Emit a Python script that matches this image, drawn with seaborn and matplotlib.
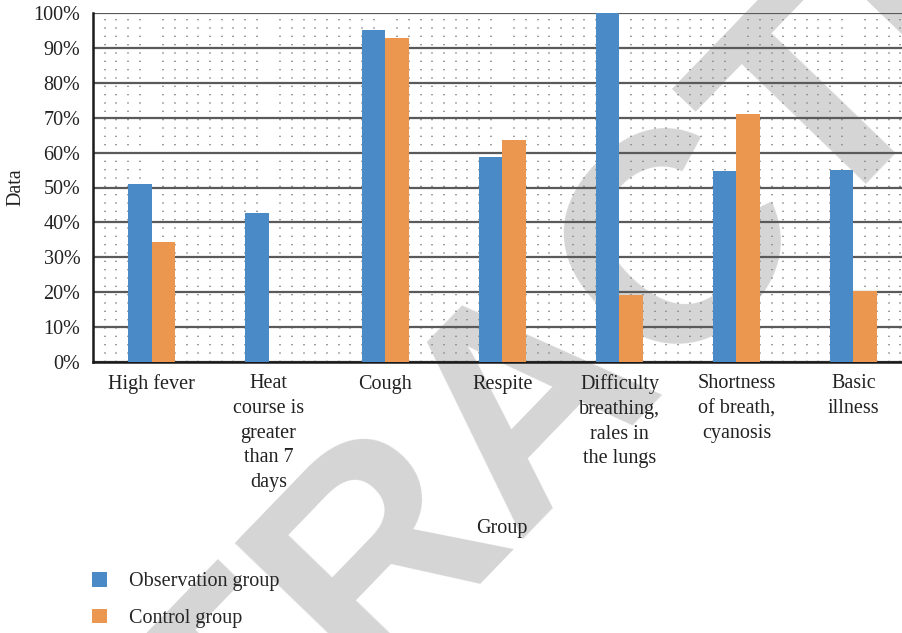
import matplotlib
matplotlib.use("Agg")
import matplotlib.pyplot as plt
from matplotlib.ticker import MultipleLocator, PercentFormatter
import seaborn as sns
import pandas as pd

categories = [
    "High fever",
    "Heat\ncourse is\ngreater\nthan 7\ndays",
    "Cough",
    "Respite",
    "Difficulty\nbreathing,\nrales in\nthe lungs",
    "Shortness\nof breath,\ncyanosis",
    "Basic\nillness",
]
observation = [51.0, 42.7, 95.1, 58.7, 100.0, 54.7, 55.0]
control = [34.4, 0.0, 92.8, 63.6, 19.2, 71.1, 20.3]
groups = ["Observation group", "Control group"]

df = pd.DataFrame({
    "Group": categories * 2,
    "Data": observation + control,
    "Series": [groups[0]] * len(categories) + [groups[1]] * len(categories),
})

sns.set_theme(style="white")
plt.rcParams["font.family"] = ["Liberation Serif", "DejaVu Serif"]

fig = plt.figure(figsize=(9.02, 6.33), dpi=100)
ax = fig.add_axes([93 / 902, 1 - 362 / 633, 819 / 902, 349 / 633])
ax.set_facecolor("none")

# faint watermark behind everything
fig.text(0.59, 0.37, "RETRACTED", rotation=46, rotation_mode="anchor",
         ha="center", va="center", fontsize=215, fontweight="bold",
         family="Liberation Sans", color="#d5d5d5", zorder=-5)

sns.barplot(data=df, x="Group", y="Data", hue="Series", hue_order=groups,
            palette=["#4a8bc7", "#eb974f"], width=0.41, gap=0,
            saturation=1, linewidth=0, ax=ax, legend=True, zorder=3)

ax.set_ylim(0, 100)
ax.set_xlim(-0.5, 6.5)
ax.yaxis.set_major_locator(MultipleLocator(10))
ax.yaxis.set_major_formatter(PercentFormatter(decimals=0))
ax.xaxis.set_minor_locator(MultipleLocator(0.1))
ax.grid(axis="y", which="major", color="#5a5a5a", linewidth=1.6, zorder=1)
ax.grid(axis="x", which="minor", color="#8a8a8a", linewidth=1.2,
        linestyle=(0, (0.8, 4.2)), zorder=1)
ax.set_axisbelow(True)

for s in ["top", "right"]:
    ax.spines[s].set_visible(False)
for s in ["left", "bottom"]:
    ax.spines[s].set_color("#1a1a1a")
    ax.spines[s].set_linewidth(1.8)

ax.tick_params(axis="both", length=0, labelsize=14.5, colors="#222222")
ax.tick_params(axis="x", pad=9)
ax.tick_params(axis="y", pad=9)
for lbl in ax.get_xticklabels():
    lbl.set_va("top")
    lbl.set_linespacing(1.4)

ax.set_xlabel("Group", fontsize=14.5, color="#222222")
ax.set_ylabel("Data", fontsize=14.5, color="#222222", labelpad=6)
ax.xaxis.set_label_coords((502 - 93) / 819, -(519 - 362) / 349)

handles, labels = ax.get_legend_handles_labels()
ax.get_legend().remove()
fig.legend(handles, labels, loc="upper left",
           bbox_to_anchor=(92 / 902, 1 - 572 / 633), frameon=False,
           fontsize=14.5, handlelength=0.75, handleheight=0.75,
           handletextpad=1.1, labelspacing=0.85, borderpad=0,
           borderaxespad=0)

fig.savefig("out.png", dpi=100)
